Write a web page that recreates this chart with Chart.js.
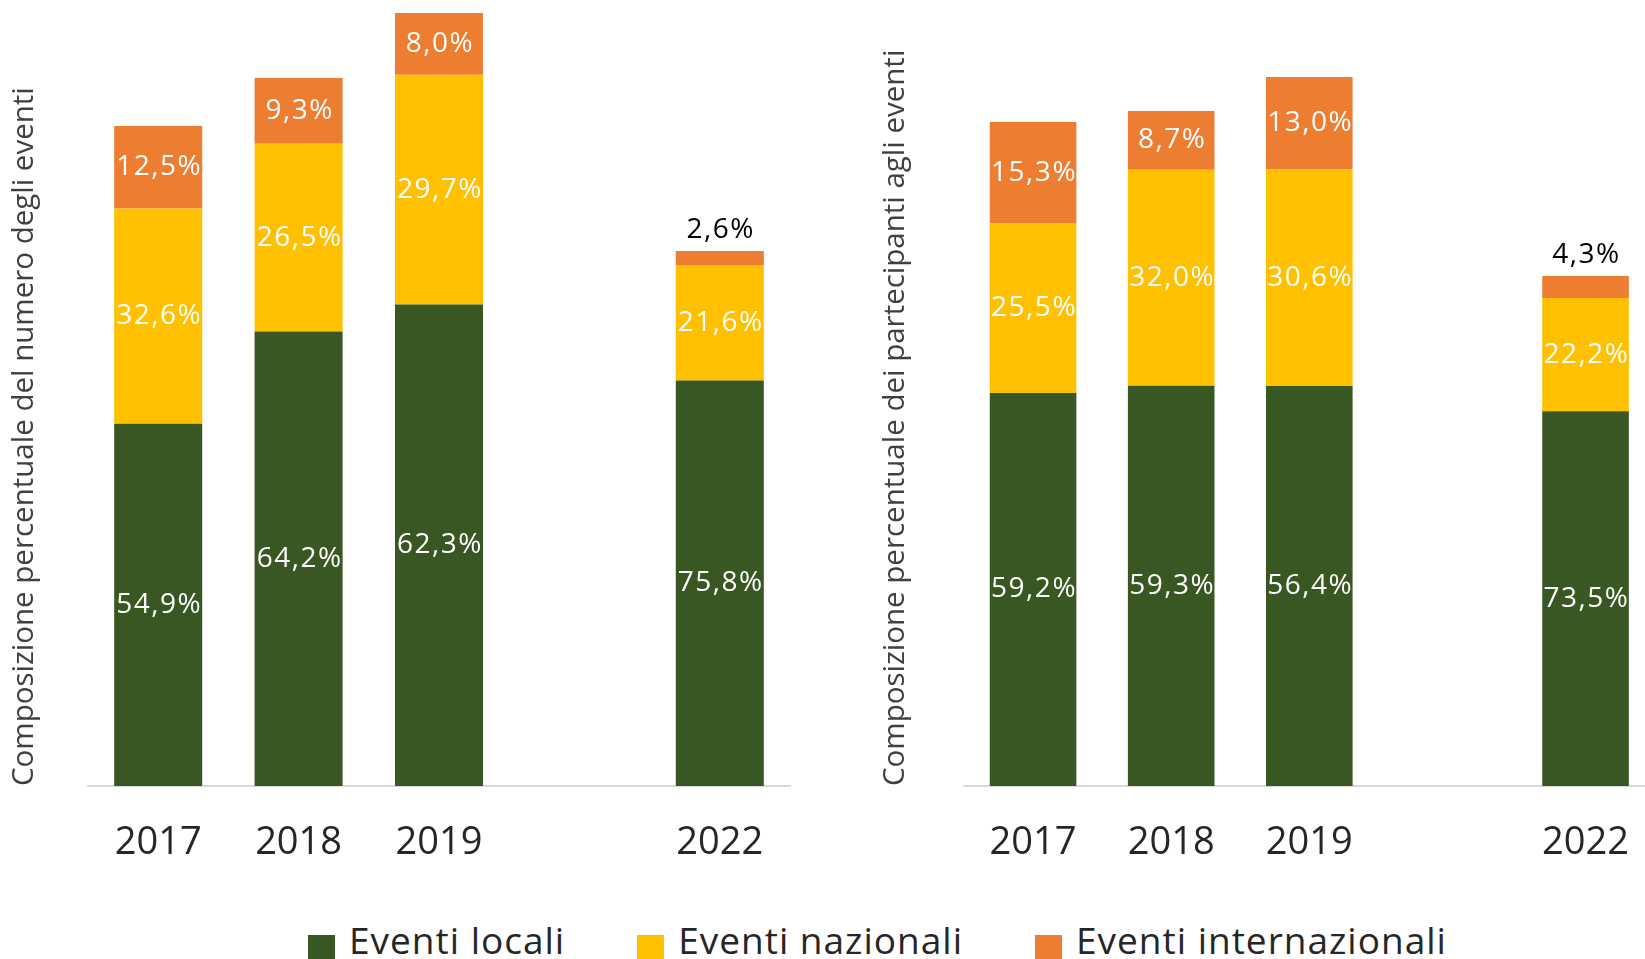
<!DOCTYPE html>
<html lang="it">
<head>
<meta charset="utf-8">
<script src="https://cdn.jsdelivr.net/npm/chart.js@4.4.1/dist/chart.umd.min.js"></script>
<style>
    html, body { margin: 0; padding: 0; background: #fff; overflow: hidden; }
    body { width: 1645px; height: 959px; position: relative; }
    .box { position: absolute; top: 0; height: 880px; }
    #boxEventi { left: 0; width: 800px; }
    #boxPartecipanti { left: 840px; width: 823px; }
    #legenda {
        position: absolute; left: 308px; top: 915px;
        display: flex; gap: 72px;
        font-family: "Open Sans", sans-serif; font-size: 37px; line-height: 1.362;
        letter-spacing: 1px;
        color: #262626; white-space: nowrap;
    }
    #legenda .voce { display: flex; align-items: flex-start; }
    #legenda .quadrato { width: 27px; height: 27px; margin-top: 20px; margin-right: 14px; }
</style>
</head>
<body>
<div class="box" id="boxEventi"><canvas id="graficoEventi"></canvas></div>
<div class="box" id="boxPartecipanti"><canvas id="graficoPartecipanti"></canvas></div>
<div id="legenda"></div>

<script>
// categorie (lo spazio vuoto è il buco 2020-2021)
const anni = ['2017', '2018', '2019', '', '2022'];

const serie = ['Eventi locali', 'Eventi nazionali', 'Eventi internazionali'];
const coloriSerie = ['#385723', '#FFC000', '#ED7D31'];

// altezza relativa delle colonne
const totaliEventi       = [660, 708, 773, null, 535];
const totaliPartecipanti = [664, 675, 709, null, 510];

// composizione percentuale - numero degli eventi
const eventiLocali          = [54.9, 64.2, 62.3, null, 75.8];
const eventiNazionali       = [32.6, 26.5, 29.7, null, 21.6];
const eventiInternazionali  = [12.5,  9.3,  8.0, null,  2.6];

// composizione percentuale - partecipanti
const partLocali            = [59.2, 59.3, 56.4, null, 73.5];
const partNazionali         = [25.5, 32.0, 30.6, null, 22.2];
const partInternazionali    = [15.3,  8.7, 13.0, null,  4.3];

const FONT = '"Open Sans", sans-serif';

function formatta(p) {
    return p.toFixed(1).replace('.', ',') + '%';
}

// etichette con le percentuali dentro (o sopra) i pezzi delle colonne
const pluginEtichette = {
    id: 'etichette',
    afterDatasetsDraw(chart) {
        const ctx = chart.ctx;
        chart.data.datasets.forEach((ds, i) => {
            const meta = chart.getDatasetMeta(i);
            meta.data.forEach((bar, j) => {
                const p = ds.percentuali[j];
                if (p == null) return;
                const h = bar.base - bar.y;
                ctx.save();
                ctx.font = '28px ' + FONT;
                ctx.letterSpacing = '1.5px';
                ctx.textAlign = 'center';
                ctx.textBaseline = 'middle';
                if (h < 40) {
                    ctx.fillStyle = '#000';
                    ctx.fillText(formatta(p), bar.x + 1, bar.y - 21);
                } else {
                    ctx.fillStyle = '#fff';
                    ctx.fillText(formatta(p), bar.x + 1, (bar.y + bar.base) / 2);
                }
                ctx.restore();
            });
        });
    }
};

function creaDataset(nome, colore, perc, totali) {
    return {
        label: nome,
        percentuali: perc,
        data: perc.map((p, j) => p == null ? null : totali[j] * p / 100),
        backgroundColor: colore,
        borderWidth: 0,
        barPercentage: 0.627,
        categoryPercentage: 1
    };
}

function creaGrafico(id, titolo, percentuali, totali, padSx, padDx, larghezzaAsse) {
    return new Chart(document.getElementById(id), {
        type: 'bar',
        data: {
            labels: anni,
            datasets: serie.map((s, i) => creaDataset(s, coloriSerie[i], percentuali[i], totali))
        },
        options: {
            responsive: true,
            maintainAspectRatio: false,
            animation: false,
            layout: { padding: { left: padSx, right: padDx, top: 0, bottom: 0 } },
            plugins: {
                legend: { display: false },
                tooltip: { enabled: false }
            },
            scales: {
                x: {
                    stacked: true,
                    grid: { display: false, drawTicks: false },
                    border: { display: true, color: '#D9D9D9', width: 2 },
                    ticks: {
                        color: '#262626',
                        font: { family: FONT, size: 38 },
                        padding: 34
                    },
                    afterFit(scale) { scale.height = 94; }
                },
                y: {
                    stacked: true,
                    min: 0,
                    max: 786,
                    grid: { display: false },
                    border: { display: false },
                    ticks: { display: false },
                    title: {
                        display: true,
                        text: titolo,
                        align: 'start',
                        color: '#404040',
                        font: { family: FONT, size: 29.5 },
                        padding: 0
                    },
                    afterFit(scale) { scale.width = larghezzaAsse; }
                }
            }
        },
        plugins: [pluginEtichette]
    });
}

creaGrafico('graficoEventi',
    'Composizione percentuale del numero degli eventi',
    [eventiLocali, eventiNazionali, eventiInternazionali],
    totaliEventi, 7.3, 10, 80.7);

creaGrafico('graficoPartecipanti',
    'Composizione percentuale dei partecipanti agli eventi',
    [partLocali, partNazionali, partInternazionali],
    totaliPartecipanti, 38.3, 0, 85.7);

// legenda comune sotto i due grafici
const legenda = document.getElementById('legenda');
serie.forEach((s, i) => {
    const voce = document.createElement('div');
    voce.className = 'voce';
    const q = document.createElement('span');
    q.className = 'quadrato';
    q.style.background = coloriSerie[i];
    const t = document.createElement('span');
    t.textContent = s;
    voce.appendChild(q);
    voce.appendChild(t);
    legenda.appendChild(voce);
});
</script>
</body>
</html>
